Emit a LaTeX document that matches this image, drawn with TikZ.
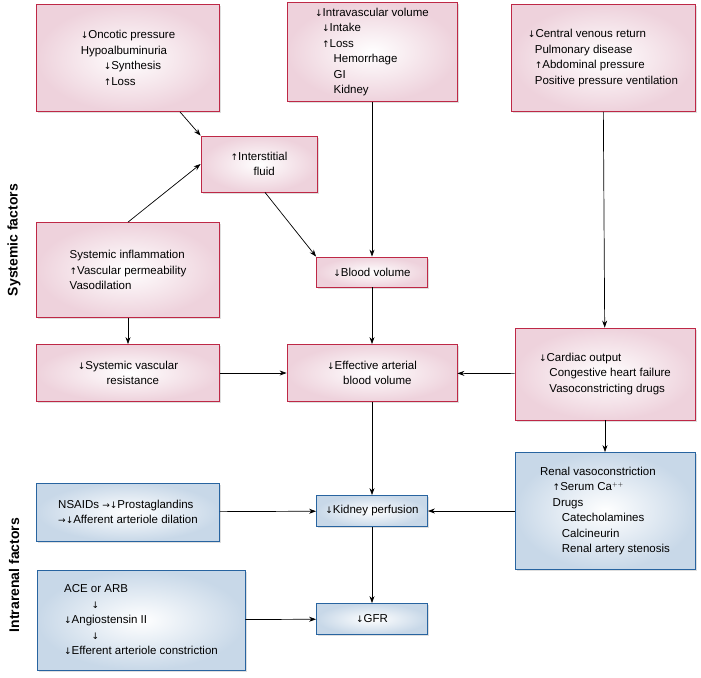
\documentclass[tikz,border=0pt]{standalone}
\usepackage{fontspec}
\setmainfont{Liberation Sans}
\newfontfamily\symfont{DejaVu Sans}
\usetikzlibrary{shadows,arrows.meta}
\newcommand{\dn}{{\symfont\small↓}}
\newcommand{\upa}{{\symfont\small↑}}
\newcommand{\ind}[1][1.1em]{\hspace*{#1}}
\definecolor{pinkedge}{RGB}{190,40,70}
\definecolor{pinkfill}{RGB}{238,210,220}
\definecolor{blueedge}{RGB}{40,100,160}
\definecolor{bluefill}{RGB}{200,216,232}

\begin{document}
\begin{tikzpicture}[x=1pt, y=-1pt,
  sysbox/.style={rectangle, draw=pinkedge, line width=0.8pt, inner color=white, outer color=pinkfill, drop shadow={opacity=0.25, shadow xshift=1.5pt, shadow yshift=-1.5pt}, align=left, font=\fontsize{11.5}{15.5}\selectfont},
  renbox/.style={sysbox, draw=blueedge, outer color=bluefill},
  side/.style={rotate=90, font=\fontsize{14}{16}\selectfont\bfseries},
  link/.style={-{Stealth[length=7pt, width=5pt]}, line width=0.7pt}
]
\useasboundingbox (0,0) rectangle (701,677);

% side labels
\node[side] (syslbl) at (14,240) {Systemic factors};
\node[side] (renlbl) at (14,575) {Intrarenal factors};

% systemic boxes
\node[sysbox, minimum width=183pt, minimum height=107pt] (oncotic) at (128,58)
  {\dn Oncotic pressure\\Hypoalbuminuria\\\ind[2em]\dn Synthesis\\\ind[2em]\upa Loss};
\node[sysbox, minimum width=170pt, minimum height=99pt] (intravasc) at (372,52)
  {\dn Intravascular volume\\\ind[0.6em]\dn Intake\\\ind[0.6em]\upa Loss\\\ind[1.6em]Hemorrhage\\\ind[1.6em]GI\\\ind[1.6em]Kidney};
\node[sysbox, minimum width=184pt, minimum height=107pt] (venous) at (603,58)
  {\dn Central venous return\\\ind[0.6em]Pulmonary disease\\\ind[0.6em]\upa Abdominal pressure\\\ind[0.6em]Positive pressure ventilation};
\node[sysbox, minimum width=116pt, minimum height=56pt] (interst) at (259,164)
  {\upa Interstitial\\\ind[2em]fluid};
\node[sysbox, minimum width=183pt, minimum height=95pt] (inflam) at (128,270)
  {Systemic inflammation\\\upa Vascular permeability\\Vasodilation};
\node[sysbox, minimum width=111pt, minimum height=30pt] (bloodvol) at (372,272)
  {\dn Blood volume};
\node[sysbox, minimum width=183pt, minimum height=57pt] (svr) at (128,373)
  {\dn Systemic vascular\\\ind[2.5em]resistance};
\node[sysbox, minimum width=170pt, minimum height=57pt] (eabv) at (372,373)
  {\dn Effective arterial\\\ind[1.4em]blood volume};
\node[sysbox, minimum width=180pt, minimum height=92pt] (cardiac) at (605,374)
  {\dn Cardiac output\\\ind[0.9em]Congestive heart failure\\\ind[0.9em]Vasoconstricting drugs};

% intrarenal boxes
\node[renbox, minimum width=183pt, minimum height=58pt] (nsaid) at (128,512)
  {NSAIDs {\symfont\small→}\dn Prostaglandins\\{\symfont\small→}\dn Afferent arteriole dilation};
\node[renbox, minimum width=111pt, minimum height=31pt] (kidney) at (372,511)
  {\dn Kidney perfusion};
\node[renbox, minimum width=180pt, minimum height=117pt] (renvaso) at (605,511)
  {Renal vasoconstriction\\\ind[1.1em]\upa Serum Ca$^{\scriptscriptstyle ++}$\\\ind[1.1em]Drugs\\\ind[1.9em]Catecholamines\\\ind[1.9em]Calcineurin\\\ind[1.9em]Renal artery stenosis};
\node[renbox, minimum width=208pt, minimum height=100pt] (ace) at (141,620)
  {ACE or ARB\\\ind[2.4em]\dn\\\dn Angiostensin II\\\ind[2.4em]\dn\\\dn Efferent arteriole constriction};
\node[renbox, minimum width=111pt, minimum height=31pt] (gfr) at (372,619)
  {\dn GFR};

% connectors
\draw[link] (oncotic.south) ++(52,0) coordinate (onc1) -- (interst.west|-interst.north west) ;
\draw[link] (inflam.north) -- (interst.west);
\draw[link] (interst.south) ++(6,0) coordinate (int1) -- (bloodvol.north west);
\draw[link] (intravasc) -- (bloodvol);
\draw[link] (bloodvol) -- (eabv);
\draw[link] (venous) -- (cardiac);
\draw[link] (inflam) -- (svr);
\draw[link] (svr) -- (eabv);
\draw[link] (cardiac) -- (eabv);
\draw[link] (cardiac) -- (renvaso);
\draw[link] (eabv) -- (kidney);
\draw[link] (renvaso) -- (kidney);
\draw[link] (nsaid) -- (kidney);
\draw[link] (kidney) -- (gfr);
\draw[link] (ace) -- (gfr);
\end{tikzpicture}
\end{document}
